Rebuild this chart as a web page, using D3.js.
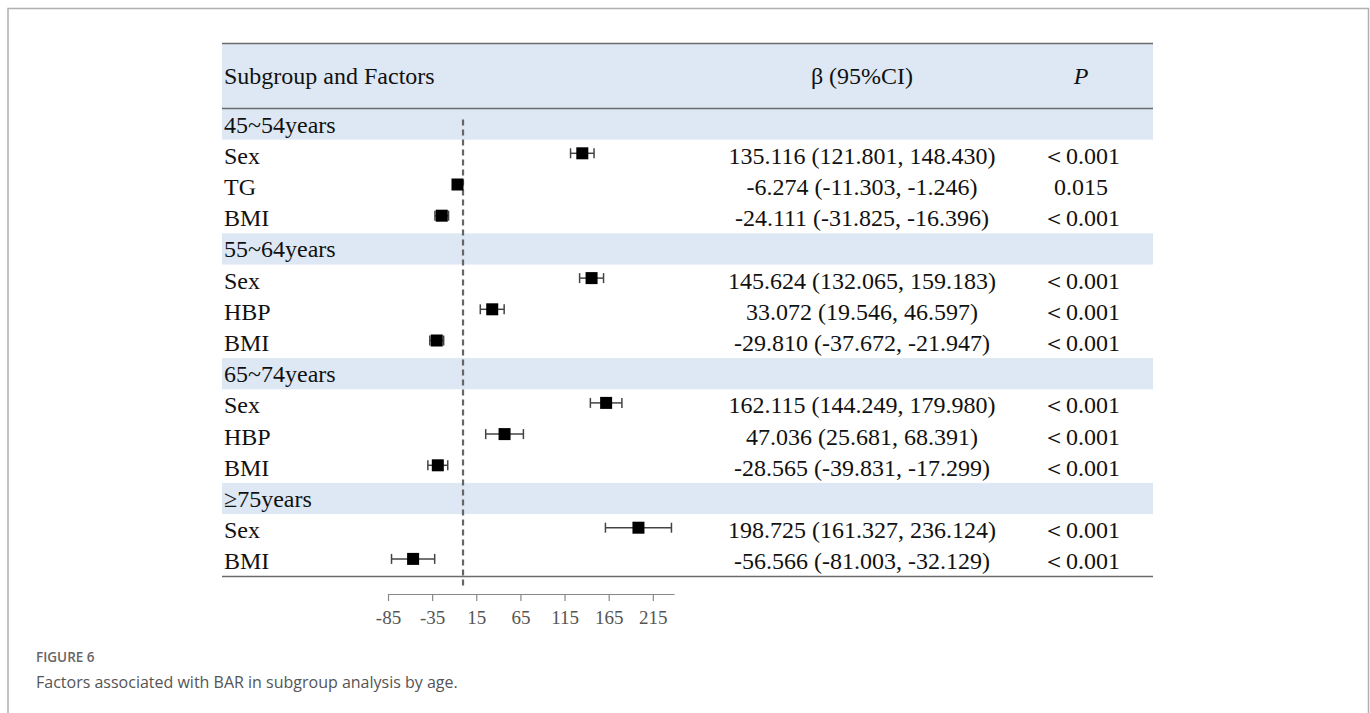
<!DOCTYPE html>
<html lang="en">
<head>
  <meta charset="UTF-8">
  <title>Factors associated with BAR by age</title>
  <script src="https://d3js.org/d3.v7.min.js"></script>
  <style>
    body { margin: 0; background: #fff; }
    .serif { font-family: "Liberation Serif", "Times New Roman", serif; }
    .cap { font-family: "Open Sans", "Noto Sans", sans-serif; }
  </style>
</head>
<body>
  <svg id="chart" width="1370" height="713"></svg>

  <script>
    // row labels, top to bottom; group rows carry no estimate
    const rowLabels = ["45~54years", "Sex", "TG", "BMI",
                       "55~64years", "Sex", "HBP", "BMI",
                       "65~74years", "Sex", "HBP", "BMI",
                       "≥75years", "Sex", "BMI"];
    const isGroup = [1, 0, 0, 0, 1, 0, 0, 0, 1, 0, 0, 0, 1, 0, 0];
    const beta  = [null, 135.116, -6.274, -24.111, null, 145.624, 33.072, -29.810, null, 162.115, 47.036, -28.565, null, 198.725, -56.566];
    const lower = [null, 121.801, -11.303, -31.825, null, 132.065, 19.546, -37.672, null, 144.249, 25.681, -39.831, null, 161.327, -81.003];
    const upper = [null, 148.430, -1.246, -16.396, null, 159.183, 46.597, -21.947, null, 179.980, 68.391, -17.299, null, 236.124, -32.129];
    const pText = ["", "＜0.001", "0.015", "＜0.001", "", "＜0.001", "＜0.001", "＜0.001", "", "＜0.001", "＜0.001", "＜0.001", "", "＜0.001", "＜0.001"];
    const tickValues = [-85, -35, 15, 65, 115, 165, 215];

    const svg = d3.select("#chart");

    // figure frame
    svg.append("path")
      .attr("d", "M8,713 L8,8.5 L1368.5,8.5 L1368.5,713")
      .attr("fill", "none").attr("stroke", "#b0b0b0").attr("stroke-width", 1.5);

    const tableLeft = 222, tableRight = 1153;
    const headTop = 43.5, headBottom = 108.5, rowH = 31.2;
    const betaX = 862, pX = 1081;
    const f3 = v => v.toFixed(3);   // keep plain hyphen minus like the source

    const x = d3.scaleLinear().domain([-85, 239]).range([388, 674]);
    const y = d3.scaleBand().domain(d3.range(rowLabels.length))
      .range([headBottom, headBottom + rowH * rowLabels.length]);

    // header band
    svg.append("rect").attr("x", tableLeft).attr("y", headTop)
      .attr("width", tableRight - tableLeft).attr("height", headBottom - headTop)
      .attr("fill", "#dde8f4");

    // group row bands
    svg.selectAll("rect.band").data(d3.range(rowLabels.length).filter(i => isGroup[i]))
      .join("rect").attr("class", "band")
      .attr("x", tableLeft).attr("y", i => y(i))
      .attr("width", tableRight - tableLeft).attr("height", y.bandwidth())
      .attr("fill", "#dde8f4");

    // table rules
    const rules = [headTop, headBottom, y.range()[1]];
    svg.selectAll("line.rule").data(rules).join("line").attr("class", "rule")
      .attr("x1", tableLeft).attr("x2", tableRight)
      .attr("y1", d => d).attr("y2", d => d)
      .attr("stroke", "#6b6b6b").attr("stroke-width", 1.5);

    // header text
    const head = svg.append("g").attr("class", "serif").attr("font-size", 24).attr("fill", "#111");
    head.append("text").attr("x", 224).attr("y", (headTop + headBottom) / 2)
      .attr("dy", "0.35em").text("Subgroup and Factors");
    head.append("text").attr("x", betaX).attr("y", (headTop + headBottom) / 2)
      .attr("dy", "0.35em").attr("text-anchor", "middle").text("β (95%CI)");
    head.append("text").attr("x", pX).attr("y", (headTop + headBottom) / 2)
      .attr("dy", "0.35em").attr("text-anchor", "middle").attr("font-style", "italic").text("P");

    // row text
    const rows = svg.append("g").attr("class", "serif").attr("font-size", 24).attr("fill", "#111");
    rowLabels.forEach((lab, i) => {
      const cy = y(i) + y.bandwidth() / 2;
      rows.append("text").attr("x", 224).attr("y", cy).attr("dy", "0.35em").text(lab);
      if (!isGroup[i]) {
        rows.append("text").attr("x", betaX).attr("y", cy).attr("dy", "0.35em")
          .attr("text-anchor", "middle")
          .text(`${f3(beta[i])} (${f3(lower[i])}, ${f3(upper[i])})`);
        rows.append("text").attr("x", pX).attr("y", cy).attr("dy", "0.35em")
          .attr("text-anchor", "middle").text(pText[i]);
      }
    });

    // reference line at zero
    svg.append("line")
      .attr("x1", x(0)).attr("x2", x(0))
      .attr("y1", y(0) + 11).attr("y2", 587)
      .attr("stroke", "#666").attr("stroke-width", 2.2)
      .attr("stroke-dasharray", "6,4");

    // estimates with CI
    const est = d3.range(rowLabels.length).filter(i => !isGroup[i]);
    const marks = svg.append("g");
    est.forEach(i => {
      const cy = y(i) + y.bandwidth() / 2 - 2;
      marks.append("line").attr("x1", x(lower[i])).attr("x2", x(upper[i]))
        .attr("y1", cy).attr("y2", cy).attr("stroke", "#444").attr("stroke-width", 1.5);
      [lower[i], upper[i]].forEach(v => {
        marks.append("line").attr("x1", x(v)).attr("x2", x(v))
          .attr("y1", cy - 5).attr("y2", cy + 5).attr("stroke", "#444").attr("stroke-width", 1.5);
      });
      marks.append("rect").attr("x", x(beta[i]) - 6).attr("y", cy - 6)
        .attr("width", 12).attr("height", 12).attr("fill", "#000");
    });

    // x axis
    const axis = svg.append("g").attr("transform", "translate(0,594)")
      .call(d3.axisBottom(x).tickValues(tickValues).tickSize(7).tickSizeOuter(0));
    axis.select(".domain").attr("stroke", "#888").attr("stroke-width", 1.2);
    axis.selectAll(".tick line").attr("stroke", "#888").attr("stroke-width", 1.2);
    axis.selectAll(".tick text").attr("class", "serif").attr("font-size", 19)
      .attr("fill", "#555").attr("y", 17).attr("dy", "0.71em").text(d => d);

    // caption
    svg.append("text").attr("class", "cap").attr("x", 36).attr("y", 662)
      .attr("font-size", 13.5).attr("font-weight", 600).attr("fill", "#666").text("FIGURE 6");
    svg.append("text").attr("class", "cap").attr("x", 36).attr("y", 688)
      .attr("font-size", 16).attr("fill", "#555")
      .text("Factors associated with BAR in subgroup analysis by age.");
  </script>
</body>
</html>
